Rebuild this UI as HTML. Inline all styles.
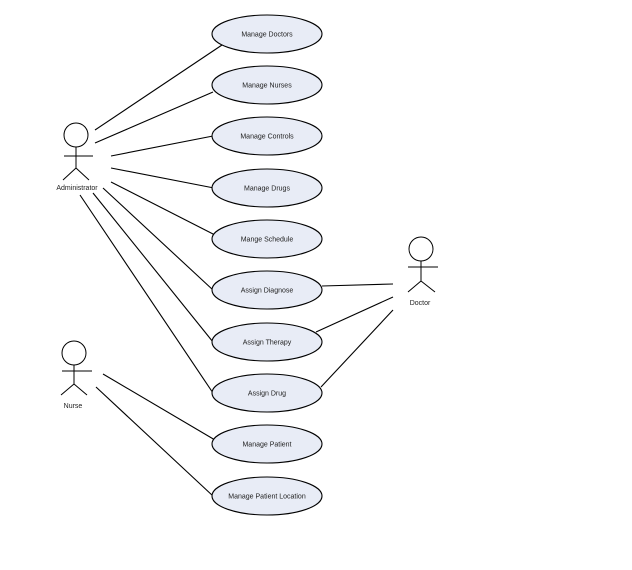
<!DOCTYPE html>
<html><head><style>html,body{margin:0;padding:0;background:#fff;}svg{display:block}</style></head>
<body>
<svg width="632" height="570" xmlns="http://www.w3.org/2000/svg" font-family="Liberation Sans, sans-serif" font-size="7" fill="none">
<g stroke="#000" stroke-width="1.1">
<line x1="95" y1="130" x2="222" y2="45"/>
<line x1="95" y1="143" x2="213" y2="92"/>
<line x1="111" y1="156" x2="213" y2="136"/>
<line x1="111" y1="168" x2="214" y2="188"/>
<line x1="111" y1="182" x2="215" y2="235"/>
<line x1="103" y1="188" x2="213" y2="290"/>
<line x1="93" y1="193" x2="213" y2="342"/>
<line x1="80" y1="195" x2="213" y2="393"/>
<line x1="322" y1="286" x2="393" y2="284"/>
<line x1="316" y1="332" x2="393" y2="297"/>
<line x1="321" y1="387" x2="393" y2="310"/>
<line x1="103" y1="374" x2="215" y2="440"/>
<line x1="96" y1="387" x2="213" y2="496"/>
</g>
<g fill="#e8ecf6" stroke="#000" stroke-width="1.1">
<ellipse cx="267" cy="34" rx="55" ry="19"/>
<ellipse cx="267" cy="85" rx="55" ry="19"/>
<ellipse cx="267" cy="136" rx="55" ry="19"/>
<ellipse cx="267" cy="188" rx="55" ry="19"/>
<ellipse cx="267" cy="239" rx="55" ry="19"/>
<ellipse cx="267" cy="290" rx="55" ry="19"/>
<ellipse cx="267" cy="342" rx="55" ry="19"/>
<ellipse cx="267" cy="393" rx="55" ry="19"/>
<ellipse cx="267" cy="444" rx="55" ry="19"/>
<ellipse cx="267" cy="496" rx="55" ry="19"/>
</g>
<g fill="#222" text-anchor="middle">
<text x="267" y="36.5">Manage Doctors</text>
<text x="267" y="87.5">Manage Nurses</text>
<text x="267" y="138.5">Manage Controls</text>
<text x="267" y="190.5">Manage Drugs</text>
<text x="267" y="241.5">Mange Schedule</text>
<text x="267" y="292.5">Assign Diagnose</text>
<text x="267" y="344.5">Assign Therapy</text>
<text x="267" y="395.5">Assign Drug</text>
<text x="267" y="446.5">Manage Patient</text>
<text x="267" y="498.5">Manage Patient Location</text>
<text x="77" y="190">Administrator</text>
<text x="420" y="305">Doctor</text>
<text x="73" y="408">Nurse</text>
</g>
<g stroke="#000" stroke-width="1" fill="none">
<circle cx="76" cy="135" r="12"/>
<path d="M76 147V168M64 156H93M76 168L63 180M76 168L89 180"/>
<circle cx="421" cy="249" r="12"/>
<path d="M421 261V281M408 267H438M421 281L408 292M421 281L435 292"/>
<circle cx="74" cy="353" r="12"/>
<path d="M74 365V384M62 371H92M74 384L61 395M74 384L87 395"/>
</g>
</svg>
</body></html>
